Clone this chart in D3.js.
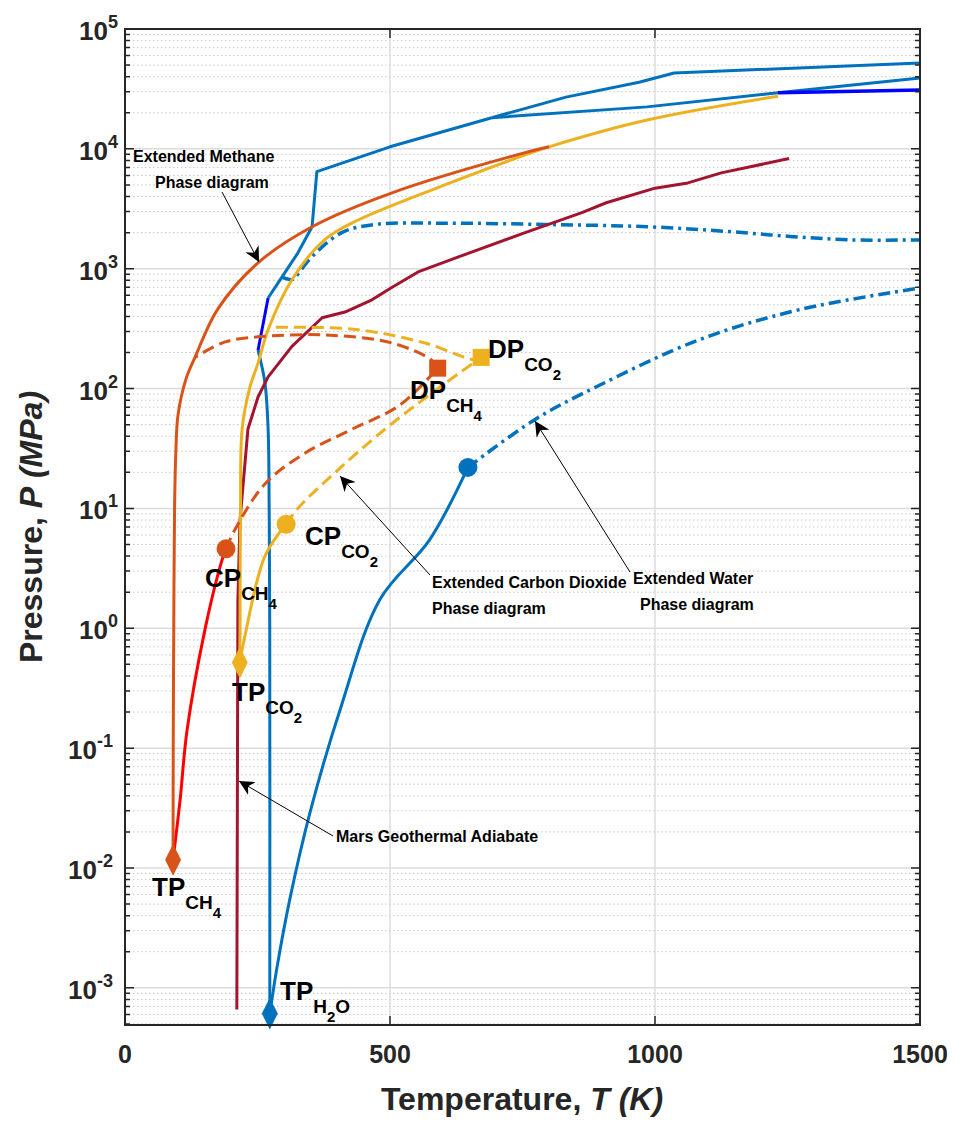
<!DOCTYPE html>
<html><head><meta charset="utf-8">
<script src="https://cdn.jsdelivr.net/npm/d3@7"></script>
<style>body{margin:0;background:#fff}text{font-family:Arial,"Liberation Sans",sans-serif;font-weight:bold}</style>
</head><body><svg id="c" width="970" height="1138"></svg>
<script>
// data: [T (K), P (MPa)]
var ch4Melt = [[90.7,0.0117],[91,0.1],[92,1],[93.5,10],[96,30],[100,60],[115,120],[132,182],[175,460],[251,1120],[353,2240],[504,4300],[755,9300],[800,10400]];
var ch4Vap = [[90.7,0.0117],[104,0.037],[117,0.14],[151,0.98],[183,3.7],[190.6,4.6]];
var ch4ExtLow = [[190.6,4.6],[207,6.6],[264,16],[340,29],[425,45],[519,73],[590,148]];
var ch4ExtUp = [[590,148],[579,172],[504,240],[377,280],[251,270],[189,245],[132,182]];
var co2Melt = [[216.6,0.518],[217,1],[218,10],[221,46],[235,100],[251,163],[270,310],[315,810],[377,1750],[440,2550],[628,5500],[755,8900],[800,10400],[985,17400],[1232,27500]];
var co2Vap = [[216.6,0.518],[226,0.85],[264,4.0],[304.1,7.38]];
var co2ExtLow = [[304.1,7.38],[326,10],[402,21],[491,46],[575,89],[672,182]];
var co2ExtUp = [[672,182],[660,174],[566,240],[440,310],[315,325],[270,325]];
var h2oVap = [[273.2,0.00061],[287,0.0015],[311,0.0055],[349,0.029],[406,0.21],[481,1.74],[575,5.5],[647,22]];
var h2oExt = [[647,22],[773,55],[896,107],[1085,257],[1274,457],[1500,690]];
var h2oMeltIh = [[273.2,0.00061],[273.1,1],[272,10],[270,46],[264,112],[251,209]];
var h2oMeltMid = [[251,209],[270,570]];
var h2oMeltHigh = [[270,570],[296,850],[326,1350],[353,2240],[362,6450],[500,10400],[692,18200]];
var h2oUpper = [[692,18200],[832,27000],[970,36000],[1036,43000],[1500,52000]];
var h2oLower = [[692,18200],[985,22400],[1232,29400],[1500,39000]];
var h2oLowerDark = [[1232,29400],[1500,31000]];
var h2oExtHigh = [[296,850],[315,810],[321,850],[353,1260],[409,2000],[472,2340],[600,2400],[792,2340],[985,2240],[1140,2040],[1255,1860],[1370,1740],[1500,1740]];
var marsAdiabat = [[211,0.00066],[213,1.7],[217,8],[232,46],[251,85],[270,125],[315,225],[372,390],[415,435],[466,550],[504,700],[553,940],[628,1250],[755,2000],[862,2940],[908,3550],[1000,4700],[1062,5200],[1125,6300],[1253,8300]];
var triplePts = [[90.7,0.0117,"#D95319"],[216.6,0.518,"#EDB120"],[273.2,0.00061,"#0072BD"]];
var criticalPts = [[190.6,4.6,"#D95319"],[304.1,7.38,"#EDB120"],[647,22,"#0072BD"]];
var dividePts = [[590,148,"#D95319"],[672,182,"#EDB120"]];
var xTicks = [0,500,1000,1500];
var yExps = [-3,-2,-1,0,1,2,3,4,5];

var L=125,R=920,T=29,B=1025;
var svg=d3.select("#c");
var x=d3.scaleLinear().domain([0,1500]).range([L,R]);
var y=d3.scaleLog().domain([Math.pow(10,-3.31),1e5]).range([B,T]);

// grid
var minor=[];
for(var e=-4;e<5;e++) for(var k=2;k<10;k++){var v=k*Math.pow(10,e); if(v>y.domain()[0]&&v<1e5) minor.push(v);}
svg.selectAll(".mg").data(minor).enter().append("line").attr("x1",L).attr("x2",R)
 .attr("y1",function(d){return y(d)}).attr("y2",function(d){return y(d)})
 .attr("stroke","#c8c8c8").attr("stroke-width",1).attr("stroke-dasharray","1.5,2.5");
svg.selectAll(".yg").data(yExps).enter().append("line").attr("x1",L).attr("x2",R)
 .attr("y1",function(d){return y(Math.pow(10,d))}).attr("y2",function(d){return y(Math.pow(10,d))})
 .attr("stroke","#dcdcdc").attr("stroke-width",1.5);
svg.selectAll(".xg").data(xTicks).enter().append("line").attr("y1",T).attr("y2",B)
 .attr("x1",function(d){return x(d)}).attr("x2",function(d){return x(d)})
 .attr("stroke","#dcdcdc").attr("stroke-width",1.5);

var smooth=d3.line().x(function(d){return x(d[0])}).y(function(d){return y(d[1])}).curve(d3.curveCatmullRom.alpha(0.5));
var lin=d3.line().x(function(d){return x(d[0])}).y(function(d){return y(d[1])});
var g=svg.append("g");
function draw(data,color,dash,w,gen){
  g.append("path").datum(data).attr("d",gen||smooth).attr("fill","none").attr("stroke",color)
   .attr("stroke-width",w||3).attr("stroke-dasharray",dash||null).attr("stroke-linejoin","round");
}
var DASH="12,6", DDOT="12,5,3,5";
draw(h2oExtHigh,"#0072BD",DDOT,3.5);
draw(h2oExt,"#0072BD",DDOT,3.5);
draw(h2oVap,"#0072BD");
draw(h2oMeltIh,"#0072BD");
draw(h2oMeltMid,"#0000FF",null,3,lin);
draw(h2oMeltHigh,"#0072BD",null,3,lin);
draw(h2oUpper,"#0072BD",null,3,lin);
draw(h2oLower,"#0072BD",null,3,lin);
draw(h2oLowerDark,"#0000FF",null,3.5,lin);
draw(marsAdiabat,"#A2142F",null,3,lin);
draw(co2ExtLow,"#EDB120",DASH);
draw(co2ExtUp,"#EDB120",DASH);
draw(co2Vap,"#EDB120");
draw(co2Melt,"#EDB120");
draw(ch4ExtLow,"#D95319",DASH);
draw(ch4ExtUp,"#D95319",DASH);
draw(ch4Vap,"#FF0000");
draw(ch4Melt,"#D95319");

// markers
g.selectAll(".tp").data(triplePts).enter().append("path").attr("d",d3.symbol(d3.symbolDiamond,220))
 .attr("transform",function(d){return "translate("+x(d[0])+","+y(d[1])+") scale(1,1.15)"}).attr("fill",function(d){return d[2]});
g.selectAll(".cp").data(criticalPts).enter().append("circle").attr("r",9.5)
 .attr("cx",function(d){return x(d[0])}).attr("cy",function(d){return y(d[1])}).attr("fill",function(d){return d[2]});
g.selectAll(".dp").data(dividePts).enter().append("rect").attr("width",17).attr("height",17)
 .attr("x",function(d){return x(d[0])-8.5}).attr("y",function(d){return y(d[1])-8.5}).attr("fill",function(d){return d[2]});

// frame and ticks
svg.append("rect").attr("x",L).attr("y",T).attr("width",R-L).attr("height",B-T).attr("fill","none").attr("stroke","#262626").attr("stroke-width",2);
svg.selectAll(".mt").data(minor).enter().append("path")
 .attr("d",function(d){return "M"+L+","+y(d)+"h5M"+R+","+y(d)+"h-5"}).attr("stroke","#262626").attr("stroke-width",1.5);
svg.selectAll(".yt").data(yExps).enter().append("path")
 .attr("d",function(d){var yy=y(Math.pow(10,d));return "M"+L+","+yy+"h9M"+R+","+yy+"h-9"}).attr("stroke","#262626").attr("stroke-width",1.5);
svg.selectAll(".xt").data(xTicks).enter().append("path")
 .attr("d",function(d){return "M"+x(d)+","+B+"v-9M"+x(d)+","+T+"v9"}).attr("stroke","#262626").attr("stroke-width",1.5);
svg.selectAll(".xl").data(xTicks).enter().append("text").attr("x",function(d){return x(d)}).attr("y",1063)
 .attr("text-anchor","middle").attr("font-size",25).attr("fill","#262626").text(function(d){return d});
var yl=svg.selectAll(".yl").data(yExps).enter().append("text").attr("y",function(d){return y(Math.pow(10,d))+11})
 .attr("font-size",26).attr("fill","#262626");
yl.append("tspan").text("10");
yl.append("tspan").attr("dy",-12).attr("font-size",18).text(function(d){return d;});
yl.attr("x",function(d){return d<0?68:79});
svg.append("text").attr("x",522).attr("y",1110).attr("text-anchor","middle").attr("font-size",32).attr("fill","#262626")
 .html('Temperature, <tspan font-style="italic">T</tspan> <tspan font-style="italic">(K)</tspan>');
svg.append("text").attr("transform","translate(42,527) rotate(-90)").attr("text-anchor","middle").attr("font-size",32).attr("fill","#262626")
 .html('Pressure, <tspan font-style="italic">P</tspan> <tspan font-style="italic">(MPa)</tspan>');

// point labels
function lab(px,py,main,sub){
  var t=svg.append("text").attr("x",px).attr("y",py).attr("font-size",26).attr("fill","#000");
  t.append("tspan").text(main);
  var parts=sub.split("_");
  t.append("tspan").attr("dy",13).attr("font-size",19).text(parts[0]);
  if(parts.length>1){t.append("tspan").attr("dy",9).attr("font-size",15).text(parts[1]);t.append("tspan").attr("dy",-9).attr("font-size",19).text(parts[2]||"");}
}
lab(488,358,"DP","CO_2");
lab(410,399,"DP","CH_4");
lab(305,545,"CP","CO_2");
lab(205,587,"CP","CH_4");
lab(232,701,"TP","CO_2");
lab(152,896,"TP","CH_4");
lab(280,1000,"TP","H_2_O");

// annotations with arrows
svg.append("defs").append("marker").attr("id","ah").attr("viewBox","0 0 10 10").attr("refX",10).attr("refY",5)
 .attr("markerWidth",15).attr("markerHeight",15).attr("markerUnits","userSpaceOnUse").attr("orient","auto")
 .append("path").attr("d","M0,0L10,5L0,10L3,5Z").attr("fill","#000");
function note(lines,tx,ty,ax1,ay1,ax2,ay2){
  svg.append("line").attr("x1",ax1).attr("y1",ay1).attr("x2",ax2).attr("y2",ay2).attr("stroke","#000").attr("stroke-width",1).attr("marker-end","url(#ah)");
  lines.forEach(function(s,i){svg.append("text").attr("x",tx[i]).attr("y",ty+i*26).attr("font-size",16).attr("fill","#000").text(s);});
}
note(["Extended Methane","Phase diagram"],[133,155],162,222,192,259,262);
note(["Extended Water","Phase diagram"],[633,640],584,630,572,535,421);
note(["Extended Carbon Dioxide","Phase diagram"],[432,432],588,430,575,340,476);
note(["Mars Geothermal Adiabate"],[336,0],842,333,836,239,781);
</script></body></html>
